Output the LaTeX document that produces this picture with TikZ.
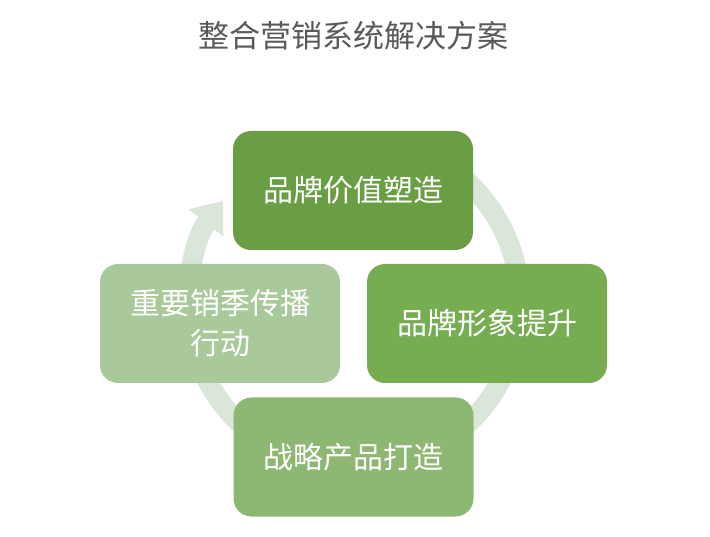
\documentclass[tikz,border=0pt]{standalone}
\usepackage{fontspec}
\newfontfamily\cjk{Noto Sans CJK SC}
\usetikzlibrary{arrows.meta}

\begin{document}
\begin{tikzpicture}[x=1pt, y=1pt,
    every node/.style={font=\cjk\fontsize{30}{40}\selectfont},
    stepbox/.style={rounded corners=18pt, minimum width=240pt, minimum height=119pt, text=white, align=center, inner sep=0pt},
    ring/.style={line width=20pt, color=ringcol, -{Triangle[width=42pt, length=28pt]}}]
    \colorlet{ringcol}{green!20!gray!25}
    \definecolor{gA}{HTML}{6A9E45}
    \definecolor{gB}{HTML}{77AD51}
    \definecolor{gC}{HTML}{8DB773}
    \definecolor{gD}{HTML}{AAC99A}
    \definecolor{titlecol}{HTML}{595959}
    \useasboundingbox[fill=white] (0,0) rectangle (710,536);
    % Title
    \node[text=titlecol, font=\cjk\fontsize{31}{36}\selectfont] (title) at (353,500) {整合营销系统解决方案};
    % Cycle arrow
    \coordinate (hub) at (354,233);
    \draw[ring] ([shift={(65:166)}]hub) arc[start angle=65, end angle=-218, radius=166];
    % Boxes
    \node[stepbox, fill=gA] (value)   at (353,345.5) {品牌价值塑造};
    \node[stepbox, fill=gB] (image)   at (487,212.5) {品牌形象提升};
    \node[stepbox, fill=gC] (product) at (353.5,79)  {战略产品打造};
    \node[stepbox, fill=gD] (season)  at (220,212.5) {重要销季传播\\行动};
\end{tikzpicture}
\end{document}
